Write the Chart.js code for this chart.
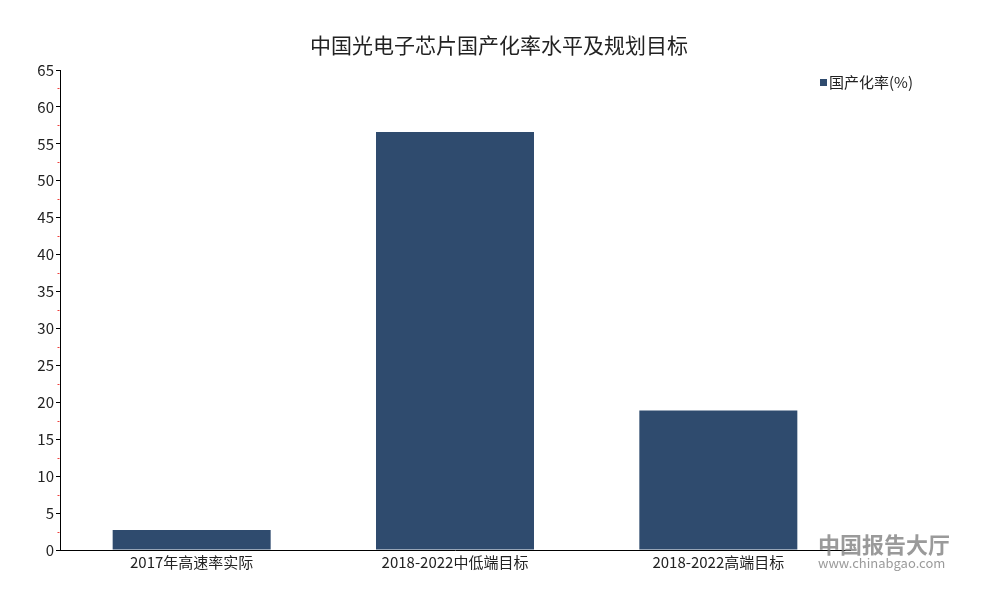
<!DOCTYPE html>
<html><head><meta charset="utf-8">
<script src="https://cdn.jsdelivr.net/npm/chart.js@4.4.0/dist/chart.umd.min.js"></script>
<style>html,body{margin:0;padding:0;background:#fff}#wrap{width:1000px;height:600px}</style>
</head><body><div id="wrap"><canvas id="c" width="1000" height="600"></canvas></div>
<script>
const categories = ['2017年高速率实际', '2018-2022中低端目标', '2018-2022高端目标'];
const seriesName = '国产化率(%)';
const values = [2.7, 56.6, 18.9];
const yTicks = [0,5,10,15,20,25,30,35,40,45,50,55,60,65];
const titleText = '中国光电子芯片国产化率水平及规划目标';
const FONT = '"Noto Sans CJK SC", "DejaVu Sans", sans-serif';
const barColor = '#2f4b6e';

const extras = {
  id: 'extras',
  afterDraw(chart) {
    const ctx = chart.ctx;
    const y = chart.scales.y;
    const x = chart.scales.x;
    ctx.save();
    ctx.strokeStyle = '#f0403c';
    ctx.lineWidth = 1;
    for (let i = 0; i < yTicks.length - 1; i++) {
      const v = (yTicks[i] + yTicks[i+1]) / 2;
      const py = Math.round(y.getPixelForValue(v)) + 0.5;
      ctx.beginPath();
      ctx.moveTo(x.left - 2.5, py);
      ctx.lineTo(x.left - 0.5, py);
      ctx.stroke();
    }
    ctx.fillStyle = '#222';
    ctx.font = '21px ' + FONT;
    ctx.textAlign = 'center';
    ctx.textBaseline = 'middle';
    ctx.fillText(titleText, 499, 45);
    ctx.fillStyle = barColor;
    ctx.fillRect(820, 79, 7, 7);
    ctx.fillStyle = '#222';
    ctx.font = '15px ' + FONT;
    ctx.textAlign = 'left';
    ctx.fillText(seriesName, 829, 82);
    ctx.fillStyle = 'rgba(120,120,120,0.75)';
    ctx.font = 'bold 22px ' + FONT;
    ctx.fillText('中国报告大厅', 818, 545);
    ctx.font = '13px ' + FONT;
    ctx.fillText('www.chinabgao.com', 818, 563);
    ctx.restore();
  }
};

new Chart(document.getElementById('c'), {
  type: 'bar',
  data: {
    labels: categories,
    datasets: [{
      label: seriesName,
      data: values,
      backgroundColor: barColor,
      barPercentage: 0.6,
      categoryPercentage: 1.0
    }]
  },
  options: {
    responsive: false,
    animation: false,
    layout: { padding: { top: 70, right: 150, bottom: 26, left: 0 } },
    plugins: { legend: { display: false }, title: { display: false }, tooltip: { enabled: false } },
    scales: {
      x: {
        grid: { display: false, drawTicks: false },
        border: { display: true, color: '#000', width: 1 },
        ticks: { color: '#222', font: { size: 15, family: FONT }, padding: 3 }
      },
      y: {
        min: 0, max: 65,
        afterBuildTicks(s) { s.ticks = yTicks.map(v => ({ value: v })); },
        afterFit(s) { s.width = 60; },
        grid: { display: true, drawOnChartArea: false, drawTicks: true, tickLength: 4, color: '#000' },
        border: { display: true, color: '#000', width: 1 },
        ticks: { color: '#222', font: { size: 15, family: FONT }, padding: 2 }
      }
    }
  },
  plugins: [extras]
});
</script></body></html>
